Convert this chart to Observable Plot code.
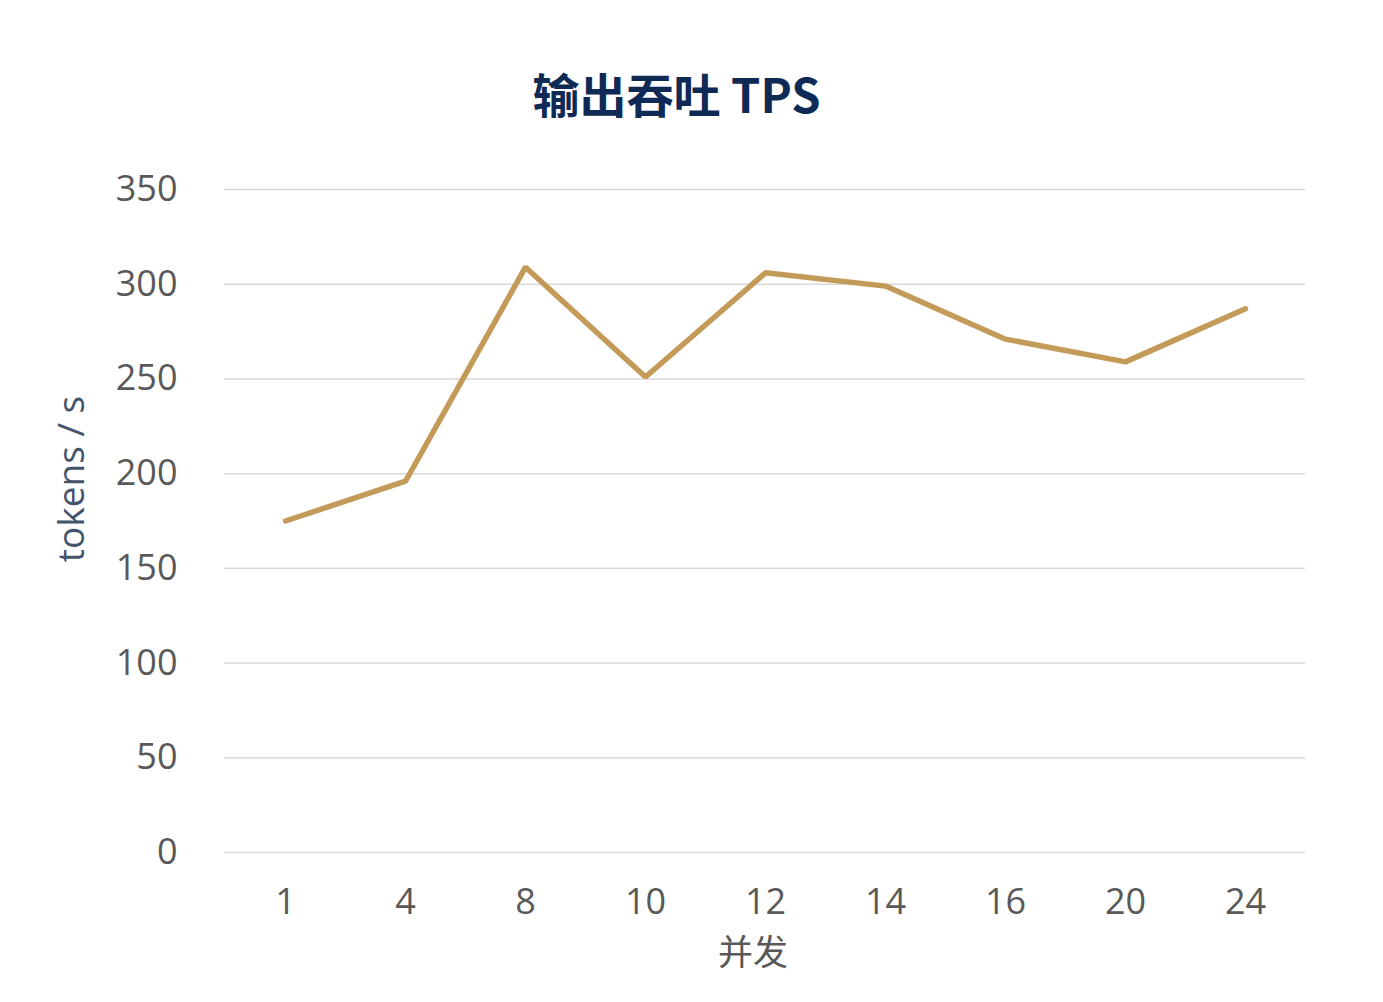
<!DOCTYPE html>
<html>
<head>
<meta charset="utf-8">
<script src="https://cdn.jsdelivr.net/npm/d3@7"></script>
<script src="https://cdn.jsdelivr.net/npm/@observablehq/plot@0.6"></script>
<style>
  html, body { margin: 0; padding: 0; background: #fff; }
  #title {
    width: 1353px; height: 80px; padding-top: 70px; padding-right: 30px;
    text-align: center; line-height: 46px;
    font-family: "Noto Sans CJK SC", "Noto Sans", sans-serif;
    font-weight: 700; font-size: 47px; color: #0E2A55;
  }
</style>
</head>
<body>
<div id="title">输出吞吐 TPS</div>
<div id="chart"></div>
<script>
const concurrency = ["1", "4", "8", "10", "12", "14", "16", "20", "24"];
const tps = [175, 196, 309, 251, 306, 299, 271, 259, 287];
const yTicks = [0, 50, 100, 150, 200, 250, 300, 350];
const yLabel = "tokens / s";
const xLabel = "并发";

const data = concurrency.map((c, i) => ({c, v: tps[i]}));

const chart = Plot.plot({
  width: 1383,
  height: 852,
  marginTop: 39,
  marginBottom: 150,
  marginLeft: 224,
  marginRight: 78,
  style: {fontFamily: "'Open Sans', 'Noto Sans CJK SC', sans-serif", fontSize: "36px", color: "#595959", background: "#fff"},
  x: {type: "point", domain: concurrency, padding: 0.5},
  y: {domain: [0, 350]},
  marks: [
    Plot.gridY(yTicks, {stroke: "#d9d9d9", strokeOpacity: 1, strokeWidth: 1.5}),
    Plot.axisY(yTicks, {tickSize: 0, tickPadding: 47, fill: "#595959", label: null}),
    Plot.axisX({tickSize: 0, tickPadding: 36, fill: "#595959", label: null}),
    Plot.text([yLabel], {text: d => d, frameAnchor: "left", rotate: -90, dx: -152, dy: -42, fill: "#44546A", fontSize: 37, textAnchor: "middle", lineAnchor: "middle"}),
    Plot.text([xLabel], {text: d => d, frameAnchor: "bottom", dx: -12, dy: 101, fill: "#595959", fontSize: 35, textAnchor: "middle", lineAnchor: "middle", fontFamily: "'Noto Sans CJK SC', sans-serif"}),
    Plot.line(data, {x: "c", y: "v", stroke: "#C49A58", strokeWidth: 5.5, strokeLinecap: "round", strokeLinejoin: "miter"})
  ]
});
document.getElementById("chart").appendChild(chart);
</script>
</body>
</html>
